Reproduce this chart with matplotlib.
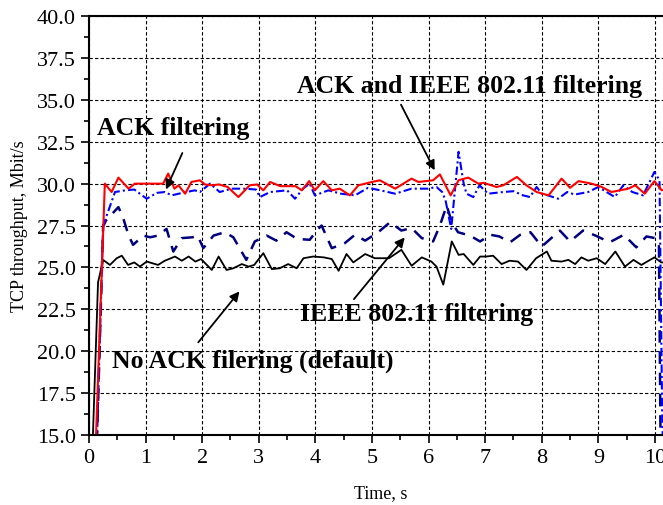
import numpy as np
import matplotlib
matplotlib.use('Agg')
import matplotlib.pyplot as plt
from matplotlib.ticker import MultipleLocator

plt.rcParams['font.family'] = ['Liberation Serif', 'DejaVu Serif']

# ACK filtering (red solid)
t_ack = [0.12, 0.28, 0.40, 0.52, 0.70, 0.81, 1.0, 1.31, 1.40, 1.51, 1.58, 1.70, 1.81, 1.96,
         2.05, 2.17, 2.30, 2.45, 2.64, 2.84, 2.97, 3.08, 3.20, 3.38, 3.65, 3.76, 3.89, 3.99,
         4.14, 4.29, 4.43, 4.61, 4.76, 5.00, 5.14, 5.41, 5.70, 5.82, 6.08, 6.20, 6.39, 6.53,
         6.70, 6.88, 6.97, 7.20, 7.32, 7.56, 7.73, 7.91, 8.12, 8.35, 8.50, 8.65, 8.88, 9.06,
         9.23, 9.53, 9.65, 9.82, 9.99, 10.12, 10.2]
v_ack = [14.5, 30.0, 29.5, 30.36, 29.7, 30.0, 30.0, 30.0, 30.6, 29.7, 29.9, 29.4, 30.1, 30.2,
         29.95, 29.9, 29.95, 29.8, 29.2, 29.9, 29.95, 29.6, 30.1, 29.85, 29.85, 29.6, 30.15, 29.6,
         30.15, 29.6, 29.7, 29.3, 29.9, 30.1, 30.2, 29.7, 30.3, 30.1, 30.2, 30.55, 29.3, 30.2,
         30.36, 30.0, 30.05, 29.8, 29.9, 30.4, 29.9, 29.5, 29.3, 30.3, 29.75, 30.15, 30.0, 29.8,
         29.5, 29.7, 29.9, 29.4, 30.15, 29.6, 29.7]

# ACK and IEEE 802.11 filtering (blue dash-dot)
t_both = [0.14, 0.25, 0.46, 0.64, 0.80, 1.02, 1.20, 1.34, 1.46, 1.65, 1.87, 1.96, 2.14, 2.31,
          2.52, 2.73, 2.95, 3.02, 3.20, 3.50, 3.64, 3.78, 3.90, 3.99, 4.23, 4.45, 4.70, 4.93,
          5.15, 5.41, 5.70, 5.99, 6.14, 6.24, 6.30, 6.40, 6.53, 6.62, 6.67, 6.79, 6.90, 7.05,
          7.32, 7.50, 7.67, 7.79, 7.91, 8.00, 8.06, 8.29, 8.45, 8.58, 8.82, 9.00, 9.29, 9.44,
          9.60, 9.79, 9.99, 10.08, 10.13, 10.15]
v_both = [14.5, 27.5, 29.5, 29.6, 29.65, 29.1, 29.45, 29.5, 29.3, 29.45, 29.6, 29.5, 30.0, 29.5,
          29.7, 29.7, 29.65, 29.2, 29.5, 29.6, 29.1, 29.7, 30.0, 29.3, 29.6, 29.4, 29.3, 29.75,
          29.6, 29.4, 29.7, 29.7, 29.8, 29.5, 29.0, 27.3, 31.9, 30.0, 29.4, 29.2, 29.9, 29.4,
          29.5, 29.55, 29.3, 29.2, 29.8, 29.4, 29.35, 29.1, 29.5, 29.35, 29.5, 29.8, 29.2, 29.9,
          29.5, 29.3, 30.7, 30.2, 15.5, 14.0]

# IEEE 802.11 filtering (navy dashed)
t_ieee = [0.14, 0.25, 0.30, 0.52, 0.60, 0.70, 0.78, 0.96, 1.08, 1.22, 1.37, 1.49, 1.64, 1.83,
          1.92, 2.02, 2.20, 2.40, 2.55, 2.78, 2.93, 3.14, 3.31, 3.49, 3.68, 3.90, 4.05, 4.11,
          4.29, 4.52, 4.70, 4.88, 5.11, 5.32, 5.52, 5.70, 5.88, 6.08, 6.20, 6.32, 6.41, 6.52,
          6.73, 6.91, 7.09, 7.25, 7.44, 7.62, 7.80, 8.00, 8.32, 8.50, 8.73, 8.95, 9.20, 9.45,
          9.67, 9.85, 10.0, 10.07, 10.10]
v_ieee = [14.5, 27.45, 27.8, 28.6, 28.0, 26.9, 26.35, 26.9, 26.8, 26.9, 27.3, 25.95, 26.75, 26.8,
          26.9, 26.15, 26.9, 27.1, 26.8, 25.45, 26.55, 26.9, 26.6, 27.1, 26.7, 26.65, 27.3, 27.5,
          26.15, 26.45, 26.95, 26.6, 27.1, 27.7, 27.2, 27.35, 26.75, 26.55, 27.5, 28.7, 27.7, 27.1,
          26.9, 26.55, 26.95, 26.85, 26.5, 26.95, 27.1, 26.25, 27.2, 26.55, 27.2, 26.9, 26.5, 26.95,
          26.2, 26.85, 26.75, 26.4, 14.0]

# No ACK filtering, default (black solid)
t_def = [0.065, 0.16, 0.25, 0.37, 0.49, 0.58, 0.69, 0.80, 0.90, 1.02, 1.12, 1.22, 1.34, 1.52,
         1.64, 1.76, 1.88, 1.98, 2.17, 2.29, 2.43, 2.55, 2.70, 2.82, 2.92, 3.08, 3.23, 3.37,
         3.52, 3.67, 3.79, 3.96, 4.15, 4.29, 4.41, 4.55, 4.67, 4.88, 5.05, 5.30, 5.52, 5.70,
         5.88, 6.05, 6.14, 6.26, 6.41, 6.53, 6.62, 6.79, 6.91, 7.02, 7.14, 7.29, 7.43, 7.58,
         7.73, 7.90, 8.09, 8.17, 8.35, 8.47, 8.59, 8.70, 8.82, 8.97, 9.12, 9.30, 9.47, 9.62,
         9.76, 9.99, 10.11, 10.2]
v_def = [14.5, 24.1, 25.45, 25.15, 25.55, 25.7, 25.15, 25.3, 25.05, 25.35, 25.25, 25.15, 25.4, 25.65,
         25.4, 25.65, 25.35, 25.5, 24.85, 25.65, 24.85, 24.95, 25.2, 25.05, 25.15, 25.85, 24.9, 24.95,
         25.2, 24.95, 25.55, 25.65, 25.6, 25.5, 24.8, 25.8, 25.3, 25.8, 25.55, 25.55, 26.05, 25.1,
         25.6, 25.35, 25.05, 23.97, 26.55, 25.75, 25.8, 25.15, 25.65, 25.65, 25.7, 25.2, 25.4, 25.35,
         24.85, 25.55, 25.95, 25.4, 25.35, 25.45, 25.2, 25.6, 25.4, 25.55, 25.2, 25.95, 25.05, 25.45,
         25.15, 25.6, 25.3, 25.3]

fig = plt.figure(figsize=(6.63, 5.06), dpi=100)
ax = fig.add_axes([0.1342, 0.1383, 0.8793, 0.828])

ax.plot(t_def, v_def, color='black', lw=1.3)
ax.plot(t_ieee, v_ieee, color='#000080', lw=1.8, linestyle=(0, (5, 3.5)))
ax.plot(t_both, v_both, color='#0000ff', lw=1.5, linestyle=(0, (4, 1.5, 1, 1.5)))
ax.plot(t_ack, v_ack, color='#ff0000', lw=1.5)

ax.set_xlim(0, 10.3)
ax.set_ylim(15, 40)
ax.xaxis.set_major_locator(MultipleLocator(1))
ax.xaxis.set_minor_locator(MultipleLocator(0.5))
ax.yaxis.set_major_locator(MultipleLocator(2.5))
ax.yaxis.set_minor_locator(MultipleLocator(1.25))
ax.yaxis.set_major_formatter(plt.FormatStrFormatter('%.1f'))
ax.tick_params(which='major', direction='out', length=6, width=1.2, labelsize=16)
ax.tick_params(which='minor', direction='out', length=3.5, width=1.2)
ax.tick_params(right=False)
for s in ax.spines.values():
    s.set_linewidth(1.5)
ax.grid(True, which='major', color='black', linestyle=(0, (3, 2)), linewidth=0.8)

ax.set_xlabel('Time, s', fontsize=13, labelpad=12)
ax.set_ylabel('TCP throughput, Mbit/s', fontsize=13, labelpad=6)

tf = dict(fontsize=18.5, fontweight='bold')
ap = dict(arrowstyle='-|>', color='black', lw=1.3, mutation_scale=14)
ax.text(0.14, 32.95, 'ACK filtering', **tf)
ax.annotate('', xy=(1.34, 29.5), xytext=(1.67, 31.98), arrowprops=ap)
ax.text(3.67, 35.48, 'ACK and IEEE 802.11 filtering', **tf)
ax.annotate('', xy=(6.13, 30.65), xytext=(5.49, 34.86), arrowprops=ap)
ax.text(3.73, 21.85, 'IEEE 802.11 filtering', **tf)
ax.annotate('', xy=(5.61, 26.92), xytext=(4.65, 22.98), arrowprops=ap)
ax.text(0.41, 19.1, 'No ACK filering (default)', **tf)
ax.annotate('', xy=(2.69, 23.7), xytext=(1.90, 20.4), arrowprops=ap)

fig.savefig('out.png', dpi=100)
